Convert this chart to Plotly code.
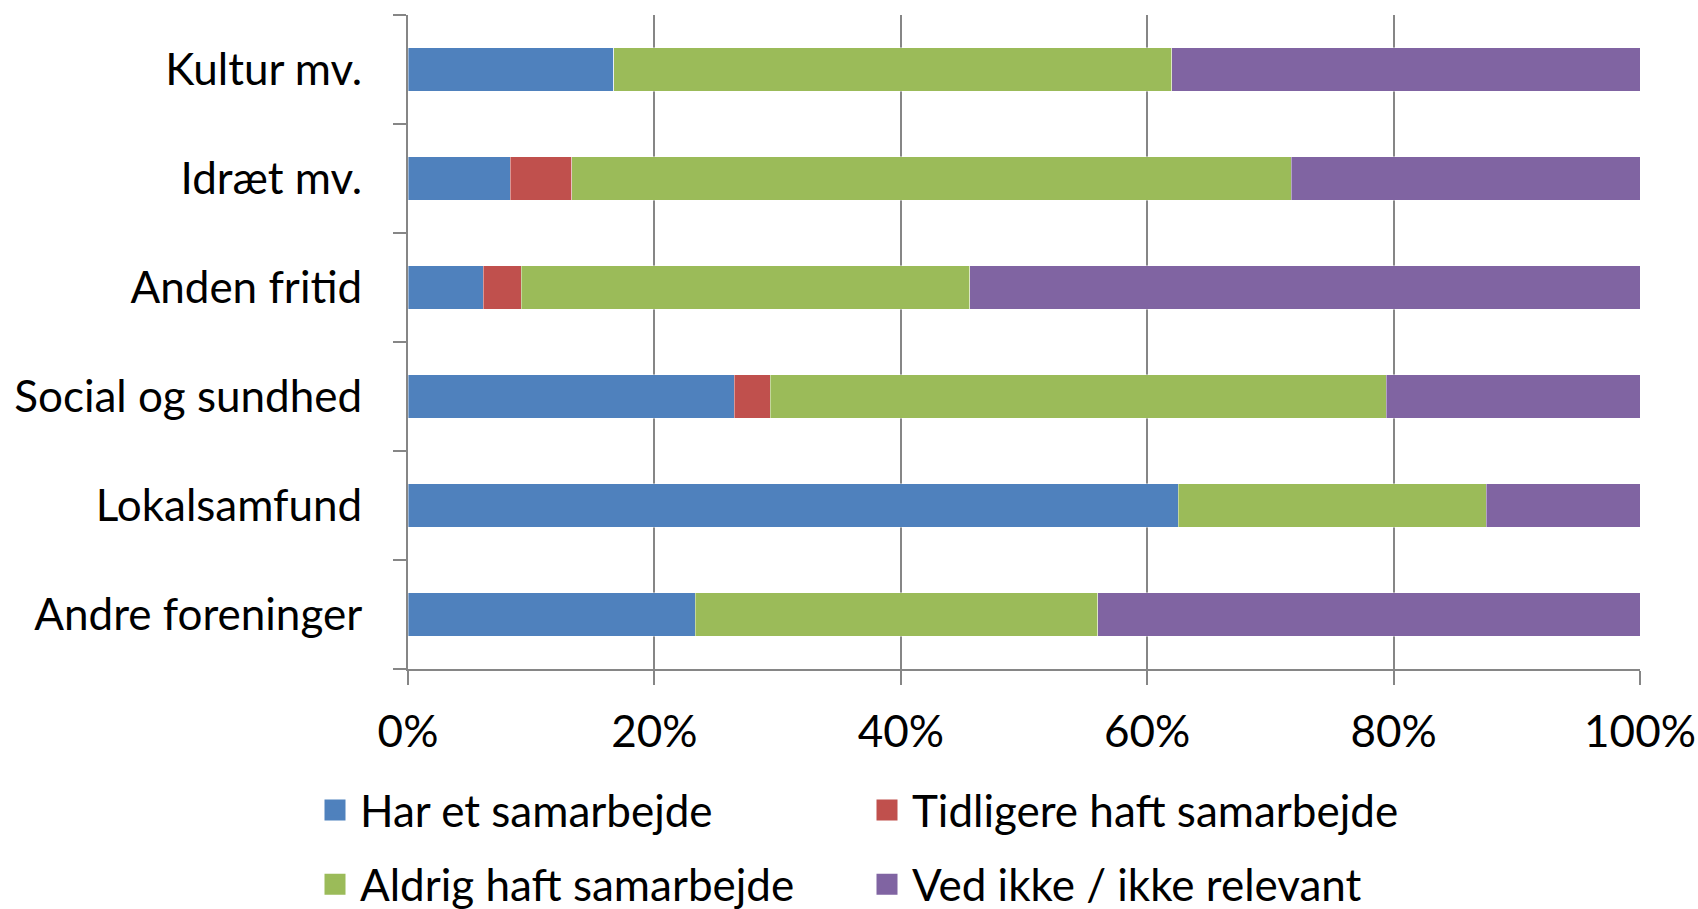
import plotly.graph_objects as go

categories = ["Andre foreninger", "Lokalsamfund", "Social og sundhed", "Anden fritid", "Idræt mv.", "Kultur mv."]
har = [23.3, 62.5, 26.5, 6.1, 8.3, 16.7]
tidligere = [0.0, 0.0, 2.9, 3.1, 5.0, 0.0]
aldrig = [32.7, 25.0, 50.0, 36.4, 58.4, 45.3]
ved_ikke = [44.0, 12.5, 20.6, 54.4, 28.3, 38.0]
tick_vals = [0, 20, 40, 60, 80, 100]
tick_text = ["0%", "20%", "40%", "60%", "80%", "100%"]

series = [
    ("Har et samarbejde", har, "#4F81BD", "legend", "g1"),
    ("Tidligere haft samarbejde", tidligere, "#C0504D", "legend2", "g2"),
    ("Aldrig haft samarbejde", aldrig, "#9BBB59", "legend", "g3"),
    ("Ved ikke / ikke relevant", ved_ikke, "#8064A2", "legend2", "g4"),
]

FONT = "Lato, Carlito, Calibri, sans-serif"
FS = 44
fig = go.Figure()
for name, vals, color, leg, grp in series:
    fig.add_trace(go.Bar(
        y=categories, x=vals, name=name, orientation="h",
        marker=dict(color=color, line=dict(color="rgba(255,255,255,0.5)", width=0.8)),
        legendgroup=grp, showlegend=False,
    ))
# legend-only entries (larger square keys)
for name, vals, color, leg, grp in series:
    fig.add_trace(go.Scatter(
        x=[None], y=[None], mode="markers", name=name,
        marker=dict(symbol="square", size=16, color=color, line=dict(color=color, width=5)),
        legend=leg, legendgroup=grp, showlegend=True, hoverinfo="skip",
    ))

legend_common = dict(
    yref="container", xref="container", orientation="v", tracegroupgap=14,
    font=dict(size=FS), itemwidth=40, itemsizing="trace", bgcolor="rgba(0,0,0,0)",
    yanchor="top", xanchor="left",
)

fig.update_layout(
    barmode="stack",
    width=1698, height=909,
    margin=dict(l=408, r=58, t=15, b=240, autoexpand=False),
    plot_bgcolor="white", paper_bgcolor="white",
    font=dict(family=FONT, size=FS, color="black"),
    bargap=0.6,
    xaxis=dict(
        range=[0, 100], tickvals=tick_vals, ticktext=tick_text,
        showgrid=True, gridcolor="#868686", gridwidth=2,
        showline=True, linecolor="#868686", linewidth=2,
        ticks="outside", ticklen=14, tickwidth=2, tickcolor="#868686",
        zeroline=False, fixedrange=True, tickangle=0, automargin=False,
        tickfont=dict(size=FS), ticklabelstandoff=9,
    ),
    yaxis=dict(
        type="category", categoryorder="array", categoryarray=categories,
        showline=True, linecolor="#868686", linewidth=2,
        ticks="outside", tickson="boundaries", ticklen=13, tickwidth=2, tickcolor="#868686",
        showgrid=False, tickfont=dict(size=FS), ticklabelstandoff=35, automargin=False,
    ),
    legend=dict(x=310 / 1698, y=(909 - 775) / 909, **legend_common),
    legend2=dict(x=862 / 1698, y=(909 - 775) / 909, **legend_common),
)

fig.write_html("out.html", config={"displayModeBar": False},
               post_script="document.body.style.margin='0';document.body.style.overflow='hidden';")
